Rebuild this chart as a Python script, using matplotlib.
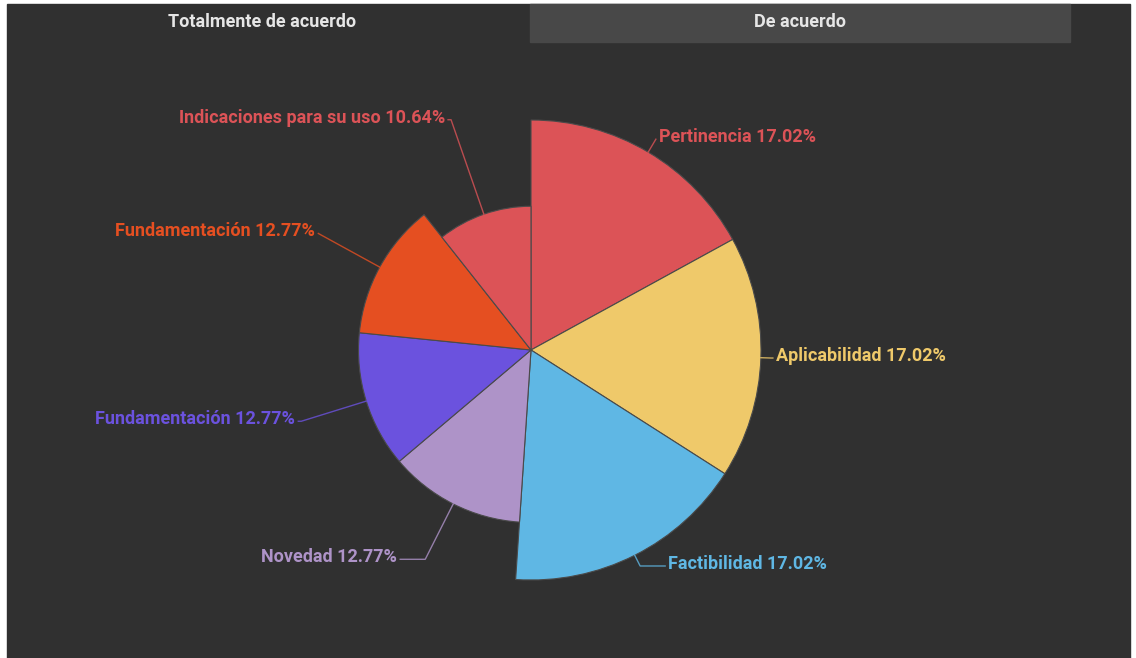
import numpy as np
import matplotlib.pyplot as plt
from matplotlib.patches import Wedge, Rectangle

plt.rcParams['font.family'] = ['Roboto', 'DejaVu Sans']

# data: counts per criterion (total 47)
labels = ['Pertinencia', 'Aplicabilidad', 'Factibilidad', 'Novedad',
          'Fundamentación', 'Fundamentación', 'Indicaciones para su uso']
counts = [8, 8, 8, 6, 6, 6, 5]
colors = ['#dc5357', '#efc96a', '#5fb7e4', '#ae93c8',
          '#6b52de', '#e54f21', '#dc5357']
tabs = ['Totalmente de acuerdo', 'De acuerdo']

# label line layout (radial extension, horizontal run) in px
line_ext = [15, 10, 12, 62, 68, 70, 100]
line_run = [0, 2, 25, 25, 3, 0, 3]

BG = '#303030'
W, H = 1136, 658
cx, cy, rmax = 531, 350, 230

fig = plt.figure(figsize=(W / 100, H / 100), dpi=100)
fig.patch.set_facecolor('white')
ax = fig.add_axes([0, 0, 1, 1])
ax.set_xlim(0, W)
ax.set_ylim(H, 0)
ax.set_aspect('equal')
ax.axis('off')

# panel and tabs
ax.add_patch(Rectangle((7, 4), 1123, 660, color=BG, zorder=0))
ax.add_patch(Rectangle((530, 4), 540, 38, color='#484848', zorder=1))
ax.text(262, 22, tabs[0], ha='center', va='center', color='#e6e6e6',
        fontsize=13, fontweight='bold')
ax.text(800, 22, tabs[1], ha='center', va='center', color='#e6e6e6',
        fontsize=13, fontweight='bold')

total = sum(counts)
vmax = max(counts)
start = 0.0
for lab, v, col, ext, run in zip(labels, counts, colors, line_ext, line_run):
    span = v / total * 360
    r = rmax * v / vmax
    ax.add_patch(Wedge((cx, cy), r, start - 90, start + span - 90,
                       facecolor=col, edgecolor='#4a4a4a', lw=0.8, zorder=2))
    a = np.deg2rad(start + span / 2 - 90)
    p0 = (cx + r * np.cos(a), cy + r * np.sin(a))
    p1 = (cx + (r + ext) * np.cos(a), cy + (r + ext) * np.sin(a))
    side = 1 if np.cos(a) >= 0 else -1
    p2 = (p1[0] + side * run, p1[1])
    ax.plot([p0[0], p1[0], p2[0]], [p0[1], p1[1], p2[1]],
            color=col, lw=1, alpha=0.8, zorder=3)
    pct = v / total * 100
    ax.text(p2[0] + side * 3, p2[1] - 2, f'{lab} {pct:.2f}%',
            ha='left' if side > 0 else 'right', va='center',
            color=col, fontsize=13, fontweight='bold', zorder=4)
    start += span

fig.savefig('out.png', dpi=100, facecolor=fig.get_facecolor())
